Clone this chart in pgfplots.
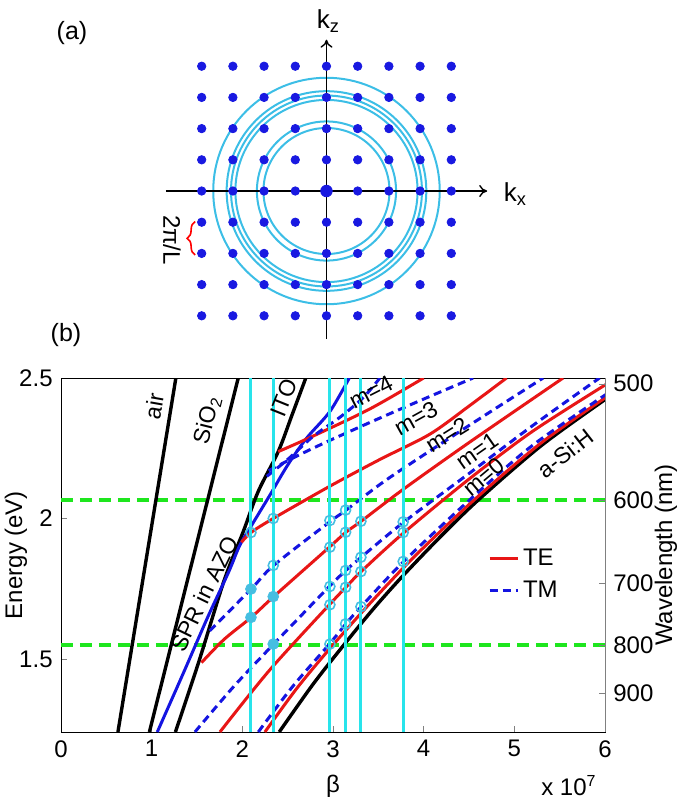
\documentclass[border=0pt]{standalone}
\usepackage{pgfplots}
\pgfplotsset{compat=1.18}
\usepackage{fontspec}
\setmainfont{Liberation Sans}
\usetikzlibrary{arrows.meta,decorations.pathreplacing}
\definecolor{dotblue}{RGB}{25,25,225}
\definecolor{circcyan}{RGB}{60,190,230}
\definecolor{vcyan}{RGB}{40,228,235}
\definecolor{mred}{RGB}{232,22,22}
\definecolor{mblue}{RGB}{20,20,225}
\definecolor{mgreen}{RGB}{30,230,30}
\definecolor{mkcyan}{RGB}{70,190,225}
\begin{document}
\fontsize{12}{14}\selectfont
\begin{tikzpicture}
\useasboundingbox (0,0) rectangle (342.5pt,400pt);
\node[font=\fontsize{12.5}{14}\selectfont] at (36pt,383.5pt) {(a)};
\node[font=\fontsize{12.5}{14}\selectfont] at (33pt,232.5pt) {(b)};
% ---------------- panel (a)
\begin{axis}[at={(82.9pt,230.4pt)}, anchor=south west, scale only axis,
 width=160.68pt, height=149.76pt, xmin=-5.15, xmax=5.15, ymin=-4.75, ymax=4.85,
 axis lines=middle, ticks=none, clip=false, axis on top,
 axis line style={line width=0.7pt, -{To[length=4pt,width=6pt]}}]
\addplot[only marks, mark=*, mark size=2.1pt, color=dotblue] coordinates {
(-4,4)(-3,4)(-2,4)(-1,4)(0,4)(1,4)(2,4)(3,4)(4,4)
(-4,3)(-3,3)(-2,3)(-1,3)(0,3)(1,3)(2,3)(3,3)(4,3)
(-4,2)(-3,2)(-2,2)(-1,2)(0,2)(1,2)(2,2)(3,2)(4,2)
(-4,1)(-3,1)(-2,1)(-1,1)(0,1)(1,1)(2,1)(3,1)(4,1)
(-4,0)(-3,0)(-2,0)(-1,0)(1,0)(2,0)(3,0)(4,0)
(-4,-1)(-3,-1)(-2,-1)(-1,-1)(0,-1)(1,-1)(2,-1)(3,-1)(4,-1)
(-4,-2)(-3,-2)(-2,-2)(-1,-2)(0,-2)(1,-2)(2,-2)(3,-2)(4,-2)
(-4,-3)(-3,-3)(-2,-3)(-1,-3)(0,-3)(1,-3)(2,-3)(3,-3)(4,-3)
(-4,-4)(-3,-4)(-2,-4)(-1,-4)(0,-4)(1,-4)(2,-4)(3,-4)(4,-4)};
\addplot[only marks, mark=*, mark size=2.9pt, color=dotblue] coordinates {(0,0)};
\draw[circcyan, line width=1pt] (axis cs:0,0) circle[radius=2.02];
\draw[circcyan, line width=1pt] (axis cs:0,0) circle[radius=2.23];
\draw[circcyan, line width=1pt] (axis cs:0,0) circle[radius=2.92];
\draw[circcyan, line width=1pt] (axis cs:0,0) circle[radius=3.06];
\draw[circcyan, line width=1pt] (axis cs:0,0) circle[radius=3.20];
\draw[circcyan, line width=1pt] (axis cs:0,0) circle[radius=3.63];
\draw[red, line width=0.8pt, decorate, decoration={brace, amplitude=4pt}]
  (axis cs:-4.21,-2.05) -- (axis cs:-4.21,-0.98);
\node[rotate=-90] at (axis cs:-4.95,-1.57) {2π/L};
\node[anchor=west, font=\fontsize{13}{15}\selectfont] at (axis cs:5.42,-0.1) {k\textsubscript{x}};
\node[font=\fontsize{13}{15}\selectfont] at (axis cs:0.06,5.45) {k\textsubscript{z}};
\end{axis}
% ---------------- panel (b)
\begin{axis}[at={(30.5pt,34pt)}, anchor=south west, scale only axis,
 width=272pt, height=177pt, xmin=0, xmax=6, ymin=1.24, ymax=2.5,
 clip mode=individual,
 xtick={0,1,2,3,4,5,6}, ytick={1.5,2,2.5}, yticklabels={1.5,2,2.5},
 tick pos=left, tick align=inside, major tick length=3pt,
 /pgf/number format/assume math mode=true,
 tick label style={font=\fontsize{12}{14}\selectfont},
 label style={font=\fontsize{12}{14}\selectfont},
 xlabel={β}, ylabel={Energy (eV)},
 xlabel style={at={(axis description cs:0.5,0)}, anchor=north, yshift=-17.5pt},
 ylabel style={at={(axis description cs:-0.083,0.5)}, anchor=center},
 legend cell align=left,
 legend style={at={(axis cs:4.64,1.80)}, anchor=west, draw=none, fill=none,
   font=\fontsize{12}{14}\selectfont, row sep=2pt},
 legend image code/.code={\draw[#1] (0pt,0pt) -- (14pt,0pt);}]
% legend entries
\addlegendimage{mred, line width=1.5pt}
\addlegendentry{TE}
\addlegendimage{mblue, line width=1.5pt, dash pattern=on 4pt off 2.5pt}
\addlegendentry{TM}
% green wavelength lines
\addplot[mgreen, line width=2pt, dash pattern=on 6pt off 3.5pt, forget plot] coordinates {(0,2.0664)(6,2.0664)};
\addplot[mgreen, line width=2pt, dash pattern=on 6pt off 3.5pt, forget plot] coordinates {(0,1.5498)(6,1.5498)};
% light lines
\addplot[black, line width=1.7pt, forget plot] coordinates {(0.628,1.24)(1.267,2.5)};
\addplot[black, line width=1.7pt, forget plot] coordinates {(0.975,1.24)(1.955,2.5)};
\addplot[black, line width=1.7pt, smooth, forget plot] coordinates {(1.262,1.24)(1.52,1.49)(1.80,1.78)(2.01,1.953)(2.175,2.096)(2.396,2.238)(2.55,2.37)(2.70,2.5)};
\addplot[black, line width=1.7pt, smooth, forget plot] coordinates {(2.407,1.24)(2.78,1.41)(3.13,1.554)(3.45,1.68)(3.774,1.797)(4.2,1.94)(4.62,2.071)(5.3,2.26)(5.99,2.421)(6.05,2.434)};
% SPR in AZO
\addplot[mblue, line width=1.5pt, smooth, forget plot] coordinates {(1.062,1.24)(1.35,1.45)(1.62,1.65)(1.85,1.81)(1.973,1.905)(2.12,1.985)(2.304,2.083)(2.50,2.19)(2.709,2.286)(2.966,2.381)(3.18,2.5)};
% TE modes
\addplot[mred, line width=1.5pt, smooth, forget plot] coordinates {(2.249,1.24)(2.6,1.395)(2.96,1.535)(3.4,1.695)(3.9,1.865)(4.56,2.067)(5.3,2.27)(6.05,2.44)};
\addplot[mred, line width=1.5pt, smooth, forget plot] coordinates {(1.753,1.24)(2.3,1.46)(2.96,1.693)(3.142,1.755)(3.31,1.811)(3.78,1.949)(4.5,2.14)(5.2,2.31)(6.05,2.485)};
\addplot[mred, line width=1.5pt, smooth, forget plot] coordinates {(1.55,1.487)(1.8,1.57)(2.098,1.648)(2.346,1.722)(2.96,1.898)(3.142,1.951)(3.31,1.99)(3.78,2.105)(4.5,2.27)(5.538,2.5)};
\addplot[mred, line width=1.5pt, smooth, forget plot] coordinates {(1.99,1.915)(2.095,1.95)(2.341,2.0)(2.966,2.115)(3.517,2.21)(4.068,2.30)(4.5,2.40)(4.914,2.5)};
\addplot[mred, line width=1.5pt, smooth, forget plot] coordinates {(2.396,2.238)(2.745,2.288)(3.407,2.39)(4.0,2.5)};
% TM modes
\addplot[mblue, line width=1.5pt, dash pattern=on 4pt off 2.5pt, smooth, forget plot] coordinates {(2.176,1.24)(2.55,1.40)(2.96,1.553)(3.142,1.625)(3.31,1.686)(3.78,1.847)(4.51,2.067)(5.2,2.26)(6.05,2.45)};
\addplot[mblue, line width=1.5pt, dash pattern=on 4pt off 2.5pt, smooth, forget plot] coordinates {(1.477,1.24)(1.9,1.40)(2.346,1.553)(2.96,1.758)(3.142,1.815)(3.31,1.862)(3.78,1.987)(4.5,2.16)(5.2,2.33)(5.94,2.5)};
\addplot[mblue, line width=1.5pt, dash pattern=on 4pt off 2.5pt, smooth, forget plot] coordinates {(1.64,1.60)(2.098,1.749)(2.346,1.833)(2.96,1.987)(3.142,2.029)(3.6,2.14)(4.4,2.31)(5.318,2.5)};
\addplot[mblue, line width=1.5pt, dash pattern=on 4pt off 2.5pt, smooth, forget plot] coordinates {(2.29,2.17)(2.6,2.222)(2.966,2.278)(3.5,2.355)(4.0,2.425)(4.546,2.5)};
\addplot[mblue, line width=1.5pt, dash pattern=on 4pt off 2.5pt, smooth, forget plot] coordinates {(2.27,2.15)(2.5,2.21)(2.78,2.292)(3.076,2.36)(3.333,2.43)(3.517,2.5)};
% grating vectors
\addplot[vcyan, line width=1.5pt, forget plot] coordinates {(2.095,1.24)(2.095,2.5)};
\addplot[vcyan, line width=1.5pt, forget plot] coordinates {(2.341,1.24)(2.341,2.5)};
\addplot[vcyan, line width=1.5pt, forget plot] coordinates {(2.966,1.24)(2.966,2.5)};
\addplot[vcyan, line width=1.5pt, forget plot] coordinates {(3.139,1.24)(3.139,2.5)};
\addplot[vcyan, line width=1.5pt, forget plot] coordinates {(3.308,1.24)(3.308,2.5)};
\addplot[vcyan, line width=1.5pt, forget plot] coordinates {(3.774,1.24)(3.774,2.5)};
% coupling points
\addplot[only marks, mark=o, mark size=2.5pt, mkcyan, mark options={line width=0.8pt}, forget plot] coordinates {
(2.095,1.95)(2.341,2.0)(2.341,1.833)
(2.966,1.993)(2.966,1.898)(2.966,1.758)(2.966,1.693)(2.966,1.553)
(3.139,2.03)(3.139,1.951)(3.139,1.815)(3.139,1.755)(3.139,1.625)
(3.308,1.99)(3.308,1.862)(3.308,1.811)(3.308,1.686)
(3.774,1.988)(3.774,1.95)(3.774,1.847)};
\addplot[only marks, mark=*, mark size=2.7pt, mkcyan, forget plot] coordinates {
(2.095,1.749)(2.095,1.648)(2.341,1.722)(2.341,1.553)};
% labels
\begin{scope}[font=\fontsize{11.5}{13}\selectfont]
\node[rotate=80] at (axis cs:1.025,2.40) {air};
\node[rotate=76] at (axis cs:1.615,2.35) {SiO\textsubscript{2}};
\node[rotate=68] at (axis cs:2.459,2.429) {ITO};
\node[rotate=64] at (axis cs:1.58,1.732) {SPR in AZO};
\node[rotate=27] at (axis cs:3.418,2.45) {m=4};
\node[rotate=29] at (axis cs:3.914,2.357) {m=3};
\node[rotate=32] at (axis cs:4.256,2.297) {m=2};
\node[rotate=35] at (axis cs:4.587,2.24) {m=1};
\node[rotate=40] at (axis cs:4.664,2.147) {m=0};
\node[rotate=38] at (axis cs:5.568,2.232) {a-Si:H};
\end{scope}
\node[anchor=base east] at (rel axis cs:1,0) [yshift=-31.5pt] {x 10\textsuperscript{7}};
\end{axis}
% right wavelength axis
\begin{axis}[at={(30.5pt,34pt)}, anchor=south west, scale only axis,
 width=272pt, height=177pt, xmin=0, xmax=6, ymin=1.24, ymax=2.5,
 axis x line=none, axis y line*=right, y axis line style={-, gray},
 ytick={2.4797,2.0664,1.7712,1.5498,1.3776}, yticklabels={500,600,700,800,900},
 tick align=inside, major tick length=3pt,
 tick label style={font=\fontsize{12}{14}\selectfont},
 label style={font=\fontsize{12}{14}\selectfont},
 ylabel={Wavelength (nm)},
 ylabel style={at={(axis description cs:1.112,0.5)}, anchor=center}]
\end{axis}
\end{tikzpicture}
\end{document}
